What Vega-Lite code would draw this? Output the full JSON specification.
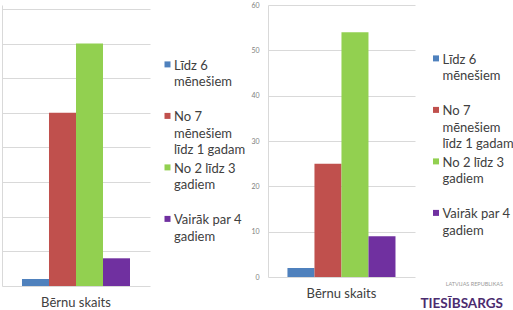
{
  "$schema": "https://vega.github.io/schema/vega-lite/v6.json",
  "padding": {"left": 2, "top": 1, "right": 0, "bottom": 0},
  "background": "white",
  "spacing": 118,
  "bounds": "flush",
  "datasets": {
    "left": [
      {"cat": "Bērnu skaits", "series": "Līdz 6 mēnešiem", "value": 2},
      {"cat": "Bērnu skaits", "series": "No 7 mēnešiem līdz 1 gadam", "value": 50},
      {"cat": "Bērnu skaits", "series": "No 2 līdz 3 gadiem", "value": 70},
      {"cat": "Bērnu skaits", "series": "Vairāk par 4 gadiem", "value": 8}
    ],
    "right": [
      {"cat": "Bērnu skaits", "series": "Līdz 6 mēnešiem", "value": 2},
      {"cat": "Bērnu skaits", "series": "No 7 mēnešiem līdz 1 gadam", "value": 25},
      {"cat": "Bērnu skaits", "series": "No 2 līdz 3 gadiem", "value": 54},
      {"cat": "Bērnu skaits", "series": "Vairāk par 4 gadiem", "value": 9}
    ]
  },
  "resolve": {"scale": {"color": "independent", "y": "independent"}, "legend": {"color": "independent"}},
  "hconcat": [
    {
      "width": 148,
      "height": 281,
      "data": {"name": "left"},
      "mark": {"type": "bar"},
      "encoding": {
        "x": {"field": "cat", "type": "nominal", "title": null,
              "scale": {"paddingInner": 0, "paddingOuter": 0.185},
              "axis": {"labelAngle": 0, "ticks": false, "domain": false, "labelPadding": 10, "labelFontSize": 13, "labelColor": "#404040"}},
        "xOffset": {"field": "series", "type": "nominal",
                    "sort": ["Līdz 6 mēnešiem", "No 7 mēnešiem līdz 1 gadam", "No 2 līdz 3 gadiem", "Vairāk par 4 gadiem"],
                    "scale": {"paddingInner": 0, "paddingOuter": 0}},
        "y": {"field": "value", "type": "quantitative", "title": null,
              "scale": {"domain": [0, 81.155], "nice": false, "zero": true},
              "axis": {"values": [0, 10, 20, 30, 40, 50, 60, 70, 80], "labels": false, "ticks": false, "grid": true}},
        "color": {"field": "series", "type": "nominal",
                  "scale": {"domain": ["Līdz 6 mēnešiem", "No 7 mēnešiem līdz 1 gadam", "No 2 līdz 3 gadiem", "Vairāk par 4 gadiem"],
                            "range": ["#4F81BD", "#C0504D", "#92D050", "#7030A0"]},
                  "legend": {"orient": "none", "legendX": 159, "legendY": 58, "title": null,
                             "gridAlign": "all", "rowPadding": 4.5, "labelOffset": 0, "labelLimit": 200,
                             "labelExpr": "datum.label == 'Līdz 6 mēnešiem' ? ['Līdz 6', 'mēnešiem', ''] : datum.label == 'No 7 mēnešiem līdz 1 gadam' ? ['No 7', 'mēnešiem', 'līdz 1 gadam'] : datum.label == 'No 2 līdz 3 gadiem' ? ['No 2 līdz 3', 'gadiem', ''] : ['Vairāk par 4', 'gadiem', '']"}}
      }
    },
    {
      "width": 147,
      "height": 272,
      "data": {"name": "right"},
      "title": {
        "text": "LATVIJAS REPUBLIKAS",
        "subtitle": "TIESĪBSARGS",
        "orient": "bottom",
        "anchor": "end",
        "frame": "group",
        "dx": 88,
        "dy": -18,
        "offset": 0,
        "font": "Lato",
        "fontSize": 5.5,
        "fontWeight": "normal",
        "color": "#9a9a9a",
        "subtitleFont": "Lato",
        "subtitleFontSize": 13.5,
        "subtitleFontWeight": "bold",
        "subtitleColor": "#4B2C6F",
        "subtitlePadding": 9
      },
      "mark": {"type": "bar"},
      "encoding": {
        "x": {"field": "cat", "type": "nominal", "title": null,
              "scale": {"paddingInner": 0, "paddingOuter": 0.18},
              "axis": {"labelAngle": 0, "ticks": false, "domain": false, "labelPadding": 10, "labelFontSize": 13, "labelColor": "#404040"}},
        "xOffset": {"field": "series", "type": "nominal",
                    "sort": ["Līdz 6 mēnešiem", "No 7 mēnešiem līdz 1 gadam", "No 2 līdz 3 gadiem", "Vairāk par 4 gadiem"],
                    "scale": {"paddingInner": 0, "paddingOuter": 0}},
        "y": {"field": "value", "type": "quantitative", "title": null,
              "scale": {"domain": [0, 60], "nice": false},
              "axis": {"values": [0, 10, 20, 30, 40, 50, 60], "ticks": false, "grid": true, "labelFontSize": 7, "labelColor": "#808080", "labelPadding": 9}},
        "color": {"field": "series", "type": "nominal",
                  "scale": {"domain": ["Līdz 6 mēnešiem", "No 7 mēnešiem līdz 1 gadam", "No 2 līdz 3 gadiem", "Vairāk par 4 gadiem"],
                            "range": ["#4F81BD", "#C0504D", "#92D050", "#7030A0"]},
                  "legend": {"orient": "none", "legendX": 161.5, "legendY": 52, "title": null,
                             "gridAlign": "all", "rowPadding": 4.5, "labelOffset": 0, "labelLimit": 200,
                             "labelExpr": "datum.label == 'Līdz 6 mēnešiem' ? ['Līdz 6', 'mēnešiem', ''] : datum.label == 'No 7 mēnešiem līdz 1 gadam' ? ['No 7', 'mēnešiem', 'līdz 1 gadam'] : datum.label == 'No 2 līdz 3 gadiem' ? ['No 2 līdz 3', 'gadiem', ''] : ['Vairāk par 4', 'gadiem', '']"}}
      }
    }
  ],
  "config": {
    "font": "Lato",
    "view": {"stroke": null},
    "axis": {"gridColor": "#d9d9d9", "domainColor": "#d9d9d9", "labelFont": "Lato"},
    "legend": {
      "padding": 0,
      "symbolType": "M-1,-2.7L1,-2.7L1,-0.7L-1,-0.7Z",
      "symbolSize": 36,
      "symbolStrokeWidth": 0,
      "labelFont": "Lato",
      "labelFontSize": 13,
      "labelColor": "#404040",
      "labelBaseline": "alphabetic"
    },
    "style": {"guide-label": {"lineHeight": 16.5}}
  }
}
